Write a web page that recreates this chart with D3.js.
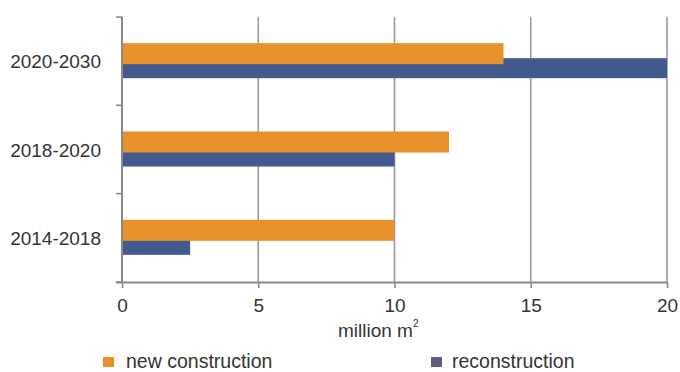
<!DOCTYPE html>
<html>
<head>
<meta charset="utf-8">
<script src="https://cdn.jsdelivr.net/npm/d3@7"></script>
<style>
  html, body { margin: 0; padding: 0; background: #fff; }
  svg { display: block; font-family: "Liberation Sans", Arial, sans-serif; }
</style>
</head>
<body>
<svg id="chart" width="680" height="372"></svg>
<script>
// Floor space by period, million m²
const periods = ["2020-2030", "2018-2020", "2014-2018"];
const newConstruction = [14, 12, 10];
const reconstruction = [20, 10, 2.5];
const xTicks = [0, 5, 10, 15, 20];
const seriesNames = ["new construction", "reconstruction"];
const seriesColors = ["#E8912A", "#435A8F"];
const legendColors = ["#E8912A", "#5C5F7E"];

const svg = d3.select("#chart");
const plotLeft = 122, plotRight = 667, plotTop = 17, plotBottom = 282;

const x = d3.scaleLinear().domain([0, 20]).range([plotLeft, plotRight]);
const y = d3.scaleBand().domain(periods).range([plotTop, plotBottom]).padding(0);
const bw = y.bandwidth();

// vertical gridlines
svg.append("g")
  .selectAll("line")
  .data(xTicks.filter(d => d > 0))
  .join("line")
  .attr("x1", d => x(d)).attr("x2", d => x(d))
  .attr("y1", plotTop).attr("y2", plotBottom)
  .attr("stroke", "#9a9a9a").attr("stroke-width", 1.6);

// bars: reconstruction first, new construction overlaps on top
const rows = periods.map((p, i) => ({ p, n: newConstruction[i], r: reconstruction[i] }));

svg.append("g").selectAll("rect")
  .data(rows).join("rect")
  .attr("x", x(0))
  .attr("y", d => y(d.p) + bw / 2 - 3)
  .attr("width", d => x(d.r) - x(0))
  .attr("height", 20)
  .attr("fill", seriesColors[1]);

svg.append("g").selectAll("rect")
  .data(rows).join("rect")
  .attr("x", x(0))
  .attr("y", d => y(d.p) + bw / 2 - 18)
  .attr("width", d => x(d.n) - x(0))
  .attr("height", 21)
  .attr("fill", seriesColors[0]);

// x axis
const xAxis = svg.append("g")
  .attr("transform", `translate(0,${plotBottom})`)
  .call(d3.axisBottom(x).tickValues(xTicks).tickSize(6).tickSizeOuter(0).tickPadding(10));
xAxis.select(".domain").attr("stroke", "#8a8a8a").attr("stroke-width", 2)
  .attr("d", `M${plotLeft - 6},0.5H${plotRight}`);
xAxis.selectAll(".tick line").attr("stroke", "#8a8a8a").attr("stroke-width", 1.6);
xAxis.selectAll(".tick text")
  .attr("fill", "#333").attr("font-size", 19)
  .attr("font-family", "Liberation Sans, Arial, sans-serif")
  .attr("dy", null).attr("y", 30);

// y axis with ticks at band boundaries
const yAxis = svg.append("g")
  .attr("transform", `translate(${plotLeft},0)`);
yAxis.append("line")
  .attr("x1", 0).attr("x2", 0).attr("y1", plotTop).attr("y2", plotBottom)
  .attr("stroke", "#8a8a8a").attr("stroke-width", 2);
const boundaries = periods.map(p => y(p)).concat([plotBottom]);
yAxis.selectAll("line.tk")
  .data(boundaries).join("line").attr("class", "tk")
  .attr("x1", -6).attr("x2", 0)
  .attr("y1", d => d).attr("y2", d => d)
  .attr("stroke", "#8a8a8a").attr("stroke-width", 1.6);

svg.append("g").selectAll("text")
  .data(periods).join("text")
  .attr("x", 101)
  .attr("y", d => y(d) + bw / 2 + 7)
  .attr("text-anchor", "end")
  .attr("font-size", 19)
  .attr("fill", "#333")
  .text(d => d);

// axis title
const title = svg.append("text")
  .attr("x", 338).attr("y", 337)
  .attr("font-size", 19).attr("fill", "#333");
title.append("tspan").text("million m");
title.append("tspan").attr("font-size", 10).attr("dy", -10).text("2");

// legend
const legendX = [103, 431];
const leg = svg.append("g").selectAll("g")
  .data(seriesNames).join("g")
  .attr("transform", (d, i) => `translate(${legendX[i]},357)`);
leg.append("rect")
  .attr("width", 11).attr("height", 10)
  .attr("fill", (d, i) => legendColors[i]);
leg.append("text")
  .attr("x", (d, i) => i === 0 ? 23 : 21)
  .attr("y", 11)
  .attr("font-size", 19.5).attr("fill", "#333")
  .text(d => d);
</script>
</body>
</html>
